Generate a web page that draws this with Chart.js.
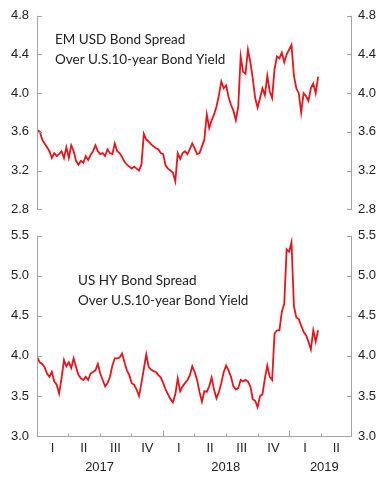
<!DOCTYPE html>
<html>
<head>
<meta charset="utf-8">
<script src="https://cdn.jsdelivr.net/npm/chart.js@4.4.1/dist/chart.umd.min.js"></script>
<style>
  body { margin: 0; background: #fff; }
  #wrap { position: relative; width: 386px; height: 481px; }
  canvas { position: absolute; left: 0; }
  #top-chart { top: 0; }
  #bottom-chart { top: 220px; }
</style>
</head>
<body>
<div id="wrap">
  <canvas id="top-chart" width="386" height="225"></canvas>
  <canvas id="bottom-chart" width="386" height="261"></canvas>
</div>
<script>
// weekly readings (Mondays), spreads in percentage points
const dates = [
  '2017-01-02','2017-01-09','2017-01-16','2017-01-23','2017-01-30',
  '2017-02-06','2017-02-13','2017-02-20','2017-02-27',
  '2017-03-06','2017-03-13','2017-03-20','2017-03-27',
  '2017-04-03','2017-04-10','2017-04-17','2017-04-24',
  '2017-05-01','2017-05-08','2017-05-15','2017-05-22','2017-05-29',
  '2017-06-05','2017-06-12','2017-06-19','2017-06-26',
  '2017-07-03','2017-07-10','2017-07-17','2017-07-24','2017-07-31',
  '2017-08-07','2017-08-14','2017-08-21','2017-08-28',
  '2017-09-04','2017-09-11','2017-09-18','2017-09-25',
  '2017-10-02','2017-10-09','2017-10-16','2017-10-23','2017-10-30',
  '2017-11-06','2017-11-13','2017-11-20','2017-11-27',
  '2017-12-04','2017-12-11','2017-12-18','2017-12-25',
  '2018-01-01','2018-01-08','2018-01-15','2018-01-22','2018-01-29',
  '2018-02-05','2018-02-12','2018-02-19','2018-02-26',
  '2018-03-05','2018-03-12','2018-03-19','2018-03-26',
  '2018-04-02','2018-04-09','2018-04-16','2018-04-23','2018-04-30',
  '2018-05-07','2018-05-14','2018-05-21','2018-05-28',
  '2018-06-04','2018-06-11','2018-06-18','2018-06-25',
  '2018-07-02','2018-07-09','2018-07-16','2018-07-23','2018-07-30',
  '2018-08-06','2018-08-13','2018-08-20','2018-08-27',
  '2018-09-03','2018-09-10','2018-09-17','2018-09-24',
  '2018-10-01','2018-10-08','2018-10-15','2018-10-22','2018-10-29',
  '2018-11-05','2018-11-12','2018-11-19','2018-11-26',
  '2018-12-03','2018-12-10','2018-12-17','2018-12-24','2018-12-31',
  '2019-01-07','2019-01-14','2019-01-21','2019-01-28',
  '2019-02-04','2019-02-11','2019-02-18','2019-02-25',
  '2019-03-04','2019-03-11','2019-03-18','2019-03-25'
];

const emSpread = [
  3.62, 3.60, 3.52, 3.48, 3.44, 3.40, 3.33, 3.38, 3.35, 3.37,
  3.40, 3.33, 3.44, 3.33, 3.46, 3.40, 3.30, 3.26, 3.30, 3.28,
  3.35, 3.31, 3.36, 3.40, 3.46, 3.40, 3.37, 3.38, 3.35, 3.42,
  3.38, 3.37, 3.48, 3.40, 3.38, 3.34, 3.29, 3.26, 3.24, 3.22,
  3.24, 3.22, 3.20, 3.26, 3.58, 3.52, 3.50, 3.47, 3.45, 3.43,
  3.42, 3.38, 3.37, 3.25, 3.22, 3.20, 3.18, 3.09, 3.38, 3.32,
  3.38, 3.40, 3.37, 3.42, 3.48, 3.43, 3.37, 3.38, 3.45, 3.52,
  3.78, 3.64, 3.72, 3.78, 3.86, 3.98, 4.12, 4.05, 4.08, 3.96,
  3.88, 3.82, 3.72, 3.86, 4.38, 4.22, 4.20, 4.45, 4.32, 4.15,
  3.95, 3.85, 3.95, 4.05, 3.98, 4.18, 4.02, 3.95, 4.25, 4.38,
  4.36, 4.42, 4.32, 4.40, 4.45, 4.50, 4.18, 4.05, 4.00, 3.80,
  4.00, 3.97, 3.92, 4.05, 4.10, 4.00, 4.17
];

const hySpread = [
  3.98, 3.92, 3.90, 3.86, 3.78, 3.74, 3.80, 3.68, 3.64, 3.53,
  3.72, 3.95, 3.87, 3.92, 3.85, 3.97, 3.86, 3.76, 3.72, 3.70,
  3.74, 3.70, 3.78, 3.80, 3.82, 3.90, 3.78, 3.70, 3.62, 3.66,
  3.74, 3.88, 3.97, 3.97, 3.98, 4.03, 3.92, 3.82, 3.76, 3.66,
  3.64, 3.58, 3.50, 3.66, 3.84, 4.02, 3.86, 3.83, 3.81, 3.80,
  3.76, 3.73, 3.66, 3.58, 3.52, 3.46, 3.42, 3.52, 3.72, 3.56,
  3.62, 3.66, 3.70, 3.76, 3.87, 3.80, 3.70, 3.55, 3.43, 3.56,
  3.55, 3.62, 3.73, 3.58, 3.47, 3.55, 3.66, 3.80, 3.88, 3.82,
  3.74, 3.62, 3.58, 3.60, 3.70, 3.68, 3.70, 3.68, 3.62, 3.46,
  3.44, 3.36, 3.50, 3.52, 3.72, 3.88, 3.74, 3.70, 4.28, 4.32,
  4.32, 4.55, 4.65, 5.33, 5.30, 5.42, 4.62, 4.48, 4.46, 4.38,
  4.30, 4.26, 4.18, 4.08, 4.32, 4.18, 4.32
];

const quarterStarts = ['2017-01-01', '2017-04-01', '2017-07-01', '2017-10-01', '2018-01-01',
  '2018-04-01', '2018-07-01', '2018-10-01', '2019-01-01', '2019-04-01', '2019-07-01'];
const quarterLabels = ['I', 'II', 'III', 'IV', 'I', 'II', 'III', 'IV', 'I', 'II'];
const yearLabels = ['2017', '2018', '2019'];
const yearLabelDates = ['2017-07-01', '2018-07-01', '2019-04-12'];

const emTicks = [2.8, 3.2, 3.6, 4.0, 4.4, 4.8];
const hyTicks = [3.0, 3.5, 4.0, 4.5, 5.0, 5.5];

const emNote = ['EM USD Bond Spread', 'Over U.S.10-year Bond Yield'];
const hyNote = ['US HY Bond Spread', 'Over U.S.10-year Bond Yield'];

const AXIS_COLOR = '#a3a3a3';
const TEXT_COLOR = '#222';
const LINE_COLOR = '#e8141b';
const TICK_FONT = { family: "'Liberation Sans', Arial, sans-serif", size: 13 };

const DAY0 = Date.UTC(2017, 0, 1);
function dayOf(s) {
    const [y, m, d] = s.split('-').map(Number);
    return (Date.UTC(y, m - 1, d) - DAY0) / 86400000;
}
const X_MAX = dayOf(quarterStarts[quarterStarts.length - 1]);

// axes lines, inward ticks, notes and quarter labels
const panelDecor = {
    id: 'panelDecor',
    afterDraw(chart, args, opts) {
        const { ctx, chartArea: a, scales } = chart;
        const yL = scales.yL;
        const x = scales.x;
        ctx.save();
        ctx.strokeStyle = AXIS_COLOR;
        ctx.lineWidth = 1;
        ctx.beginPath();
        ctx.moveTo(a.left + 0.5, a.top);
        ctx.lineTo(a.left + 0.5, a.bottom);
        ctx.moveTo(a.right - 0.5, a.top);
        ctx.lineTo(a.right - 0.5, a.bottom);
        opts.yTicks.forEach(v => {
            const y = Math.round(yL.getPixelForValue(v)) + 0.5;
            ctx.moveTo(a.left, y);
            ctx.lineTo(a.left + 5, y);
            ctx.moveTo(a.right, y);
            ctx.lineTo(a.right - 5, y);
        });
        if (opts.xAxis) {
            const yb = Math.round(a.bottom) + 0.5;
            ctx.moveTo(a.left, yb);
            ctx.lineTo(a.right, yb);
            quarterStarts.slice(1, -1).forEach(s => {
                const px = Math.round(x.getPixelForValue(dayOf(s))) + 0.5;
                const len = s.endsWith('-01-01') ? 6 : 3;
                ctx.moveTo(px, yb);
                ctx.lineTo(px, yb - len);
            });
        }
        ctx.stroke();

        ctx.fillStyle = TEXT_COLOR;
        if (opts.xAxis) {
            ctx.font = "13px 'Liberation Sans', Arial, sans-serif";
            ctx.textAlign = 'center';
            ctx.textBaseline = 'middle';
            quarterLabels.forEach((t, i) => {
                const mid = (dayOf(quarterStarts[i]) + dayOf(quarterStarts[i + 1])) / 2;
                ctx.fillText(t, x.getPixelForValue(mid), a.bottom + 12);
            });
            yearLabels.forEach((t, i) => {
                ctx.fillText(t, x.getPixelForValue(dayOf(yearLabelDates[i])), a.bottom + 31);
            });
        }

        ctx.font = "13.5px Lato, 'Open Sans', sans-serif";
        ctx.textAlign = 'left';
        ctx.textBaseline = 'alphabetic';
        opts.note.forEach((t, i) => {
            ctx.fillText(t, a.left + opts.noteDx, a.top + opts.noteDy + i * 20);
        });
        ctx.restore();
    }
};

function yAxis(pos, ticks, width, pad) {
    return {
        position: pos,
        min: ticks[0],
        max: ticks[ticks.length - 1],
        afterFit: s => { s.width = width; },
        afterBuildTicks: s => { s.ticks = ticks.map(v => ({ value: v })); },
        ticks: {
            callback: v => Number(v).toFixed(1),
            color: TEXT_COLOR,
            font: TICK_FONT,
            padding: pad
        },
        grid: { display: false, drawTicks: false },
        border: { display: false }
    };
}

function makePanel(id, values, ticks, note, cfg) {
    const points = dates.map((d, i) => ({ x: dayOf(d), y: values[i] }));
    return new Chart(document.getElementById(id), {
        type: 'line',
        data: {
            datasets: [{
                data: points,
                yAxisID: 'yL',
                borderColor: LINE_COLOR,
                borderWidth: 1.8,
                pointRadius: 0,
                tension: 0,
                fill: false
            }]
        },
        options: {
            responsive: false,
            devicePixelRatio: 1,
            animation: false,
            events: [],
            layout: { padding: cfg.padding },
            scales: {
                x: {
                    type: 'linear',
                    min: 0,
                    max: X_MAX,
                    display: cfg.xAxis,
                    afterFit: s => { s.height = cfg.xAxis ? 45 : 0; },
                    ticks: { display: false },
                    grid: { display: false, drawTicks: false },
                    border: { display: false }
                },
                yL: yAxis('left', ticks, 37, 8),
                yR: yAxis('right', ticks, 34, 6)
            },
            plugins: {
                legend: { display: false },
                tooltip: { enabled: false },
                panelDecor: {
                    yTicks: ticks,
                    xAxis: cfg.xAxis,
                    note: note,
                    noteDx: cfg.noteDx,
                    noteDy: cfg.noteDy
                }
            }
        },
        plugins: [panelDecor]
    });
}

makePanel('top-chart', emSpread, emTicks, emNote, {
    padding: { top: 15, bottom: 10, left: 0, right: 0 },
    xAxis: false,
    noteDx: 18,
    noteDy: 28
});

makePanel('bottom-chart', hySpread, hyTicks, hyNote, {
    padding: { top: 12, bottom: 0, left: 0, right: 0 },
    xAxis: true,
    noteDx: 41,
    noteDy: 49
});
</script>
</body>
</html>
